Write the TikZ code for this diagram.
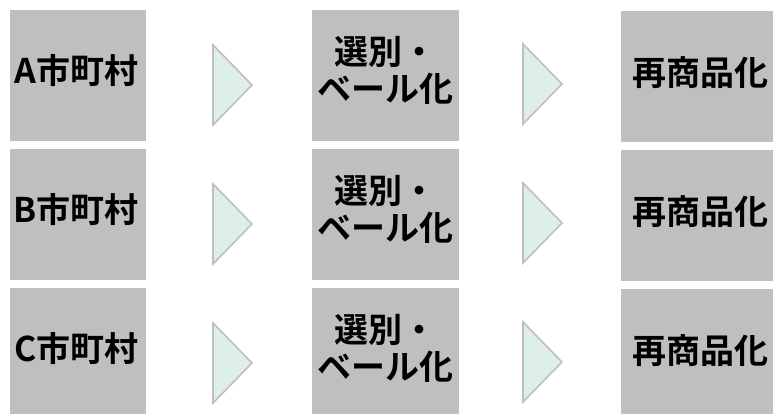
\documentclass[tikz,border=0pt]{standalone}
\usepackage{fontspec}
\newfontfamily\jp{Noto Sans CJK JP}[BoldFont={* Bold}]
\begin{document}
\begin{tikzpicture}[x=1pt,y=-1pt,
  box/.style={fill=boxgray,draw=none,minimum width=#1,minimum height=131pt,inner sep=0pt,anchor=north west},
  lbl/.style={font=\jp\bfseries\fontsize{34}{37}\selectfont,align=center,text=black,inner sep=0pt},
  chev/.style={fill=chevfill,draw=boxgray,line width=1.6pt,line join=miter}]
\definecolor{boxgray}{HTML}{BFBFBF}
\definecolor{chevfill}{HTML}{DEEEE9}
\useasboundingbox (0,0) rectangle (773,414);
\foreach \t/\L/\i in {10/A/1,149/B/2,288/C/3}{
  \node[box=136pt] (m\i) at (10,\t) {};
  \node[lbl] (mt\i) at ([xshift=-2pt,yshift=5pt]m\i.center) {\L 市町村};
  \node[box=147pt] (s\i) at (312,\t) {};
  \node[lbl] (st\i) at ([yshift=5pt]s\i.center) {選別・\\ベール化};
  \node[box=160pt] (r\i) at (621,\t+1) {};
  \node[lbl] (rt\i) at ([xshift=-1pt,yshift=4pt]r\i.center) {再商品化};
  \draw[chev] (213,\t+35) -- (252,\t+75) -- (213,\t+115) -- cycle;
  \draw[chev] (523,\t+34) -- (562,\t+74) -- (523,\t+114) -- cycle;
}
\end{tikzpicture}
\end{document}
